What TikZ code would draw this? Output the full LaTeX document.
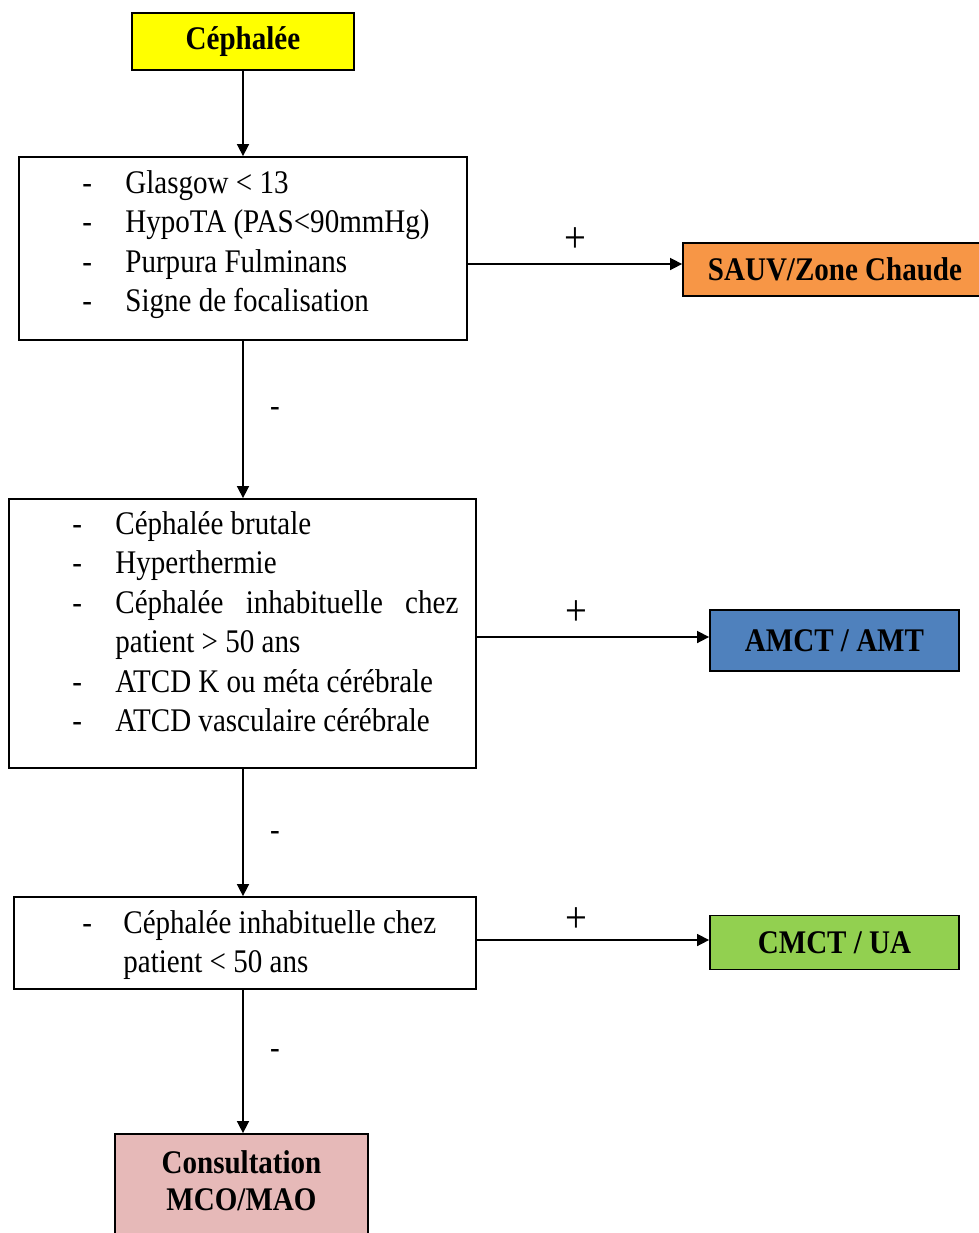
\documentclass[tikz,border=0pt]{standalone}
\usepackage{fontspec}
\setmainfont[FakeStretch=0.88]{Liberation Serif}
\usetikzlibrary{arrows.meta}
\definecolor{cyellow}{RGB}{255,255,0}
\definecolor{corange}{RGB}{247,150,70}
\definecolor{cblue}{RGB}{79,129,189}
\definecolor{cgreen}{RGB}{146,208,80}
\definecolor{cpink}{RGB}{230,185,184}
\newcommand\chartfont{\fontsize{16.5}{20}\selectfont}
\begin{document}
\begin{tikzpicture}[x=0.5pt,y=-0.5pt,
  frame/.style={draw=black, line width=0.9pt, inner sep=0pt},
  item/.style={anchor=base west, inner sep=0pt, font=\chartfont},
  title/.style={font=\chartfont\bfseries, align=center},
  link/.style={draw=black, line width=0.8pt, -{Triangle[length=6pt,width=6pt]}},
  sign/.style={font=\chartfont, inner sep=0pt},
  plus/.style={font=\fontsize{22}{22}\selectfont, inner sep=0pt}]
\useasboundingbox (0,0) rectangle (979,1233);

% start
\node[frame, fill=cyellow, minimum width=111pt, minimum height=28.5pt, title] (ceph) at (243,41.5) {Céphalée};

% first criteria box
\node[frame, minimum width=224pt, minimum height=91.5pt] (b1) at (243,248.5) {};
\node[item] (b1d1) at (82,193) {-};
\node[item] (b1t1) at (125,193) {Glasgow < 13};
\node[item] (b1d2) at (82,232.5) {-};
\node[item] (b1t2) at (125,232.5) {HypoTA (PAS<90mmHg)};
\node[item] (b1d3) at (82,272) {-};
\node[item] (b1t3) at (125,272) {Purpura Fulminans};
\node[item] (b1d4) at (82,311.5) {-};
\node[item] (b1t4) at (125,311.5) {Signe de focalisation};

\node[frame, fill=corange, minimum width=152pt, minimum height=26.5pt, title] (sauv) at (835,269.5) {SAUV/Zone Chaude};

% second criteria box
\node[frame, minimum width=233.5pt, minimum height=134.5pt] (b2) at (242.5,633.5) {};
\node[item] (b2d1) at (72,534) {-};
\node[item] (b2t1) at (115,534) {Céphalée brutale};
\node[item] (b2d2) at (72,573.5) {-};
\node[item] (b2t2) at (115,573.5) {Hyperthermie};
\node[item] (b2d3) at (72,613) {-};
\node[item] (b2t3) at (115,613) {\makebox[171.5pt][s]{Céphalée\hfill inhabituelle\hfill chez}};
\node[item] (b2t4) at (115,652.5) {patient > 50 ans};
\node[item] (b2d5) at (72,692) {-};
\node[item] (b2t5) at (115,692) {ATCD K ou méta cérébrale};
\node[item] (b2d6) at (72,731.5) {-};
\node[item] (b2t6) at (115,731.5) {ATCD vasculaire cérébrale};

\node[frame, fill=cblue, minimum width=124.5pt, minimum height=30.5pt, title] (amct) at (834.5,640.5) {AMCT / AMT};

% third criteria box
\node[frame, minimum width=231pt, minimum height=46pt] (b3) at (245,943) {};
\node[item] (b3d1) at (82,933) {-};
\node[item] (b3t1) at (123,933) {Céphalée inhabituelle chez};
\node[item] (b3t2) at (123,972.5) {patient < 50 ans};

\node[frame, fill=cgreen, minimum width=124.5pt, minimum height=27pt, title] (cmct) at (834.5,942.5) {CMCT / UA};

% final outcome
\node[frame, fill=cpink, minimum width=126.5pt, minimum height=55.5pt] (cons) at (241.5,1189.5) {};
\node[font=\fontsize{16.5}{18.5}\selectfont\bfseries, align=center, inner sep=0pt] (cons-t) at (241.5,1181) {Consultation\\MCO/MAO};

% entry points of the side arrows
\coordinate (sauv-in) at ([yshift=2.75pt]sauv.west);
\coordinate (amct-in) at ([yshift=1.75pt]amct.west);
\coordinate (cmct-in) at ([yshift=1.25pt]cmct.west);

% vertical flow
\draw[link] (ceph.south) -- (ceph.south |- b1.north);
\draw[link] (ceph.south |- b1.south) -- node[sign, pos=0.45, xshift=16pt] {-} (ceph.south |- b2.north);
\draw[link] (ceph.south |- b2.south) -- node[sign, pos=0.53, xshift=16pt] {-} (ceph.south |- b3.north);
\draw[link] (ceph.south |- b3.south) -- node[sign, pos=0.45, xshift=16pt] {-} (ceph.south |- cons.north);

% positive branches
\draw[link] (b1.east |- sauv-in) -- node[plus, midway, yshift=12pt] {+} (sauv-in);
\draw[link] (b2.east |- amct-in) -- node[plus, pos=0.43, yshift=12pt] {+} (amct-in);
\draw[link] (b3.east |- cmct-in) -- node[plus, pos=0.43, yshift=10pt] {+} (cmct-in);
\end{tikzpicture}
\end{document}
